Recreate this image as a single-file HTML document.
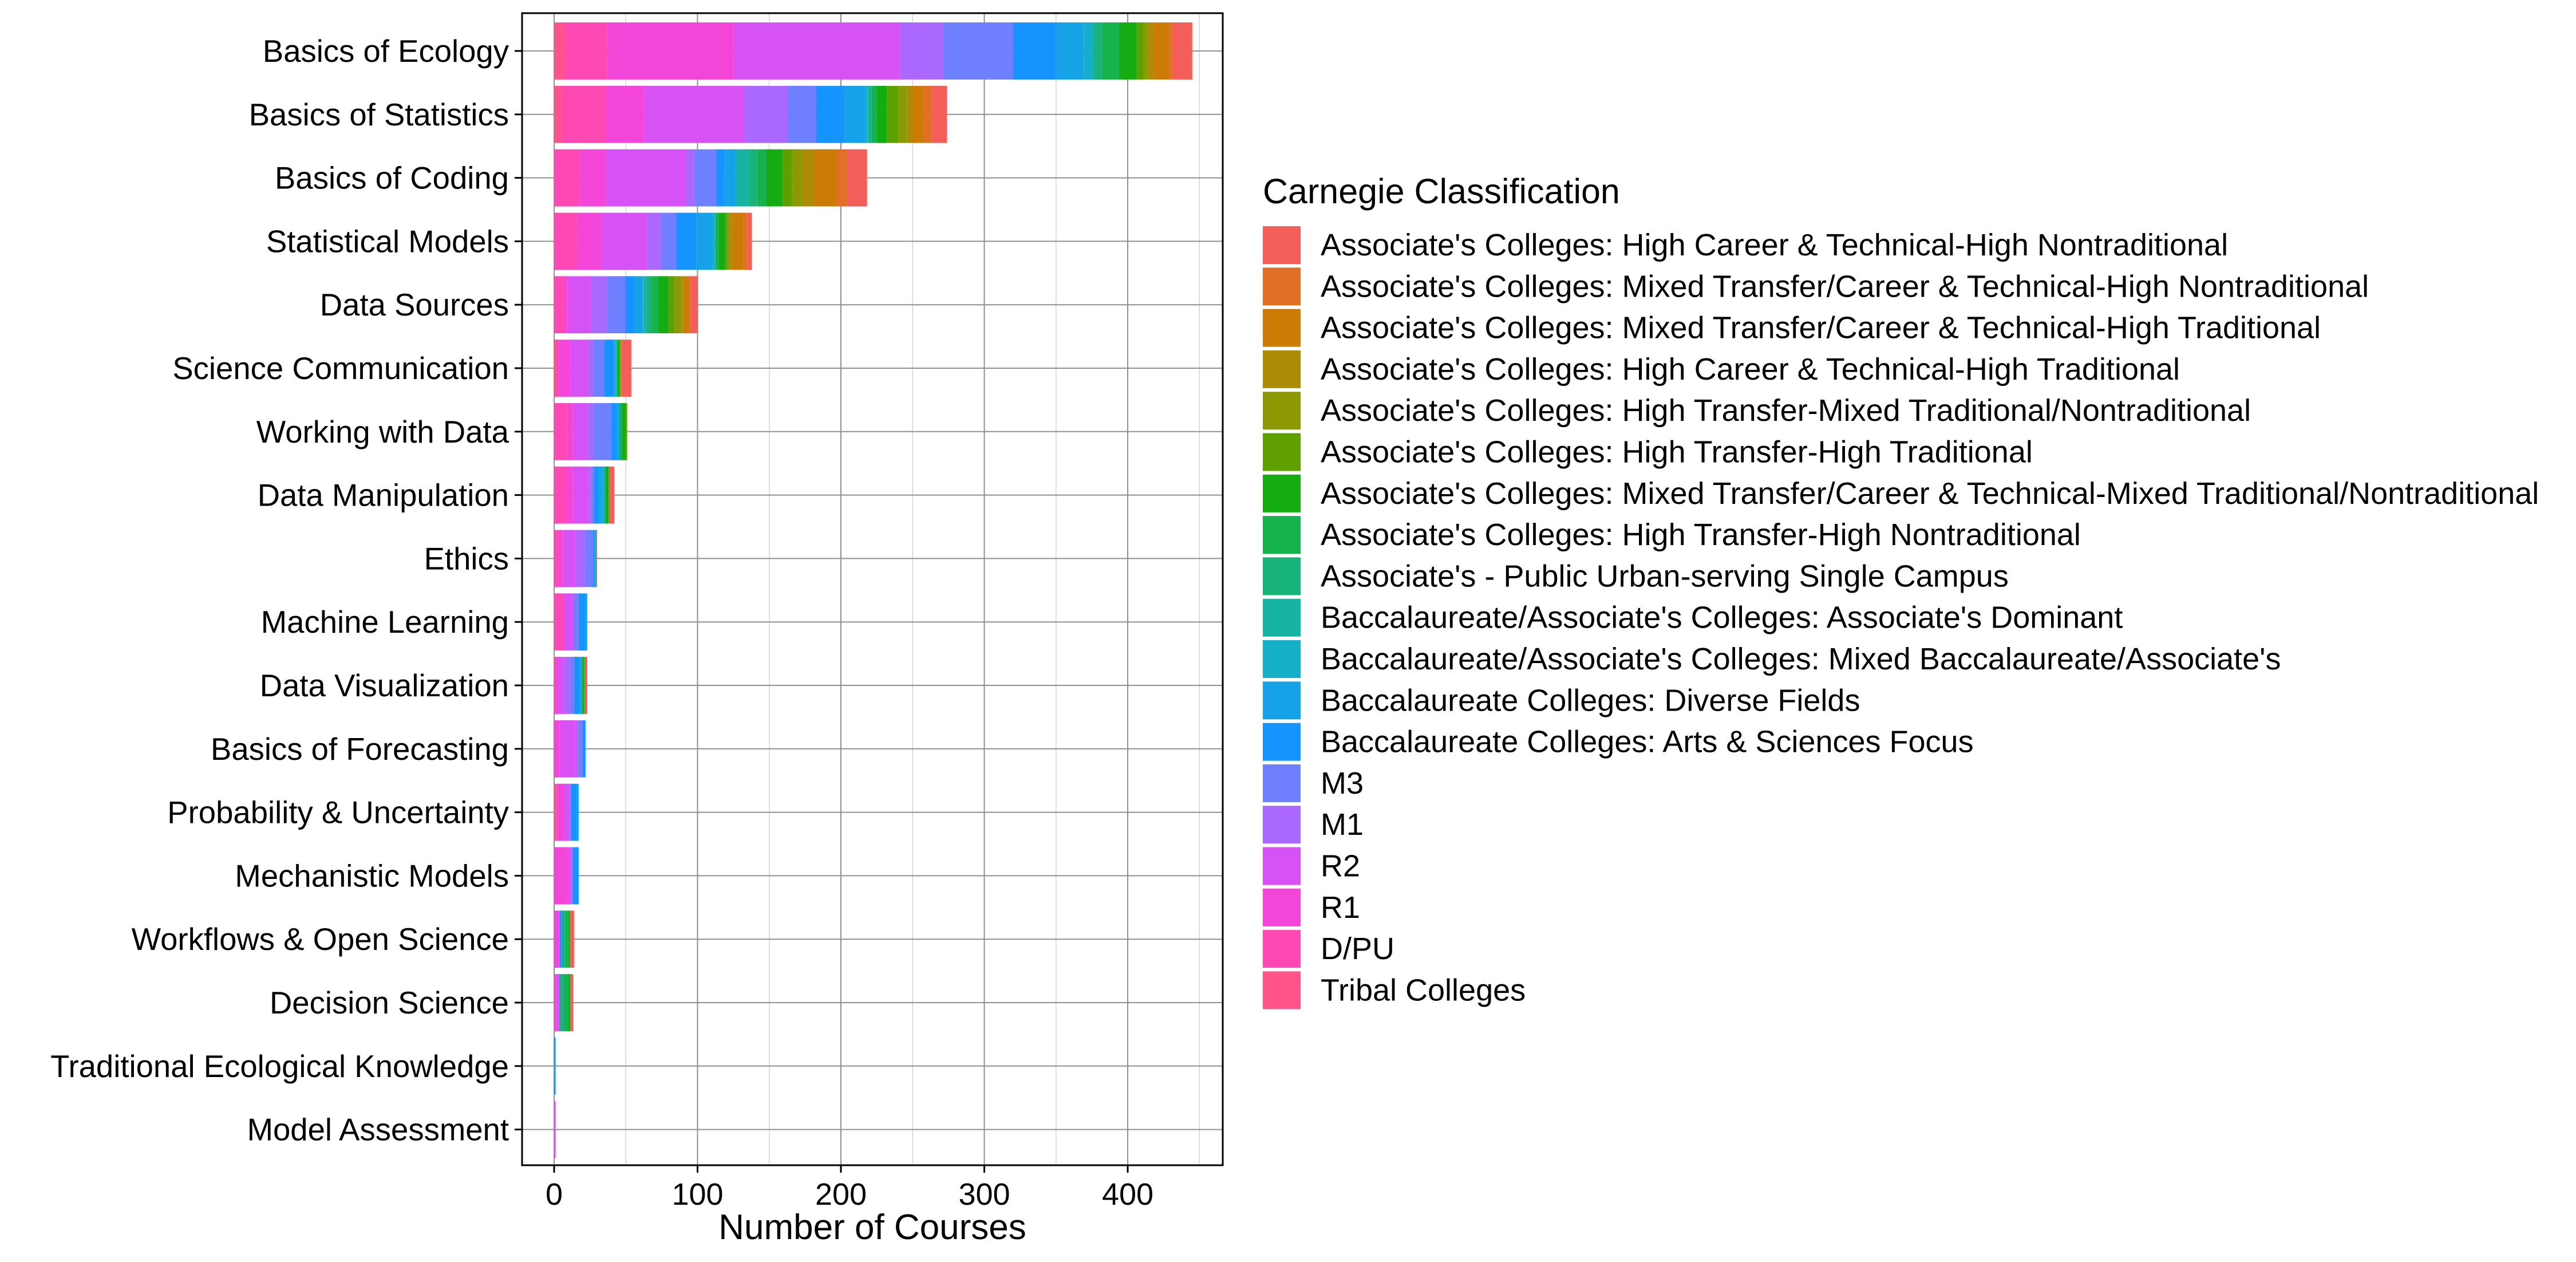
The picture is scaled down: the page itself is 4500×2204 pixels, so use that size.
<!DOCTYPE html>
<html><head><meta charset="utf-8"><style>
html,body{margin:0;padding:0;background:#fff;}
svg text{font-family:"Liberation Sans",Arial,sans-serif;fill:#000;}
</style></head><body>
<svg id="chart" xmlns="http://www.w3.org/2000/svg" width="4500" height="2199" viewBox="0 0 4500 2199">
<rect x="0" y="0" width="4500" height="2199" fill="#fff"/>
<g id="grid"></g>
<g id="bars"></g>
<rect x="912" y="23" width="1224" height="2012" fill="none" stroke="#000" stroke-width="3"/>
<g id="yaxis"></g>
<g id="xaxis"></g>
<text x="1524" y="2164" font-size="62" text-anchor="middle">Number of Courses</text>
<g id="legend">
<text x="2206" y="355" font-size="61">Carnegie Classification</text>
</g>
</svg>
<script>
// Topics (top to bottom)
const topics = ["Basics of Ecology","Basics of Statistics","Basics of Coding","Statistical Models","Data Sources","Science Communication","Working with Data","Data Manipulation","Ethics","Machine Learning","Data Visualization","Basics of Forecasting","Probability & Uncertainty","Mechanistic Models","Workflows & Open Science","Decision Science","Traditional Ecological Knowledge","Model Assessment"];
// Classes in legend order (top to bottom)
const classes = ["Associate's Colleges: High Career & Technical-High Nontraditional","Associate's Colleges: Mixed Transfer/Career & Technical-High Nontraditional","Associate's Colleges: Mixed Transfer/Career & Technical-High Traditional","Associate's Colleges: High Career & Technical-High Traditional","Associate's Colleges: High Transfer-Mixed Traditional/Nontraditional","Associate's Colleges: High Transfer-High Traditional","Associate's Colleges: Mixed Transfer/Career & Technical-Mixed Traditional/Nontraditional","Associate's Colleges: High Transfer-High Nontraditional","Associate's - Public Urban-serving Single Campus","Baccalaureate/Associate's Colleges: Associate's Dominant","Baccalaureate/Associate's Colleges: Mixed Baccalaureate/Associate's","Baccalaureate Colleges: Diverse Fields","Baccalaureate Colleges: Arts & Sciences Focus","M3","M1","R2","R1","D/PU","Tribal Colleges"];
const classColors = ["#F35E5A","#E16F25","#CC7B07","#AC8C07","#8C9804","#5FA000","#15AC12","#16B24C","#17B378","#17B3A3","#15AFC7","#16A2E6","#1593FF","#6E7FFF","#AA68FF","#D652F4","#F346D8","#FE48B4","#FE548A"];
// Counts per topic, stacked left-to-right: Tribal, D/PU, R1, R2, M1, M3, BaccAS, BaccDiv, BAmixed, BAdom, PublicUrban, HT-HN, Mix-Mix, HT-HT, HT-Mixed, HCT-HT, Mix-HT, Mix-HN, HCT-HN
const ecology      = [7,30,88,116,30,49,30,19,7,0,6,12,12,5,3,4,11,2,14];
const statistics   = [5,30.5,27,70,30,20,19.5,15,1.5,1,2,3.5,7,8,6,3.5,8,6,10.5];
const coding       = [0,17.6,17.9,56.3,5.9,15.3,5.6,8,0,9,6,6.5,11,6.7,7,8.4,15.8,7.2,14];
const statModels   = [0,15.9,17.2,31.8,9.6,10.7,13.9,11.3,1,0.5,1,1.8,4.6,1.5,1.5,1.5,8,3,3];
const dataSources  = [0,7,2.3,16.2,11.3,12.9,6,5.9,1,2,3.3,4.7,7.3,4,5,1.2,3.5,1.5,5];
const sciComm      = [1,2.3,7.6,12.6,3.3,8.3,6.3,1,0.5,0.5,0.5,0.5,1.3,0.3,0,0,0.5,0.5,6.8];
const workingData  = [0,9.1,4,10,4,12.8,3.2,2.1,0,0,0,2.7,2,0,1.1,0,0,0,0];
const dataManip    = [0,7.7,5.4,10.8,2,2,3.2,2,2,0,0.8,0,2,0,0,0,0,0,4];
const ethics       = [0,2.9,3,9,6.2,6,0.8,1.2,0,0,0,0,0,0,0,0,0,0.8,0];
const machineLearn = [0,6,0.8,6.4,0,3.9,4.8,0,1.2,0,0,0,0,0,0,0,0,0,0];
const dataViz      = [0,1,1,5.1,4,2.8,4,1.2,0,0,0,0.8,1.2,0,0,0,0,0,2];
const forecasting  = [0,0,3.9,11.2,2,2.8,2,0,0,0,0,0,0,0,0,0,0,0,0];
const probability  = [1.7,0,4.3,4,1,0.9,4,1.2,0,0,0,0,0,0,0,0,0,0,0];
const mechanistic  = [0,0,9.2,2.7,0,1.2,4,0,0,0,0,0,0,0,0,0,0,0,0];
const workflows    = [0,0,2,1.9,0,0,1.2,0,0,0,2.8,2,1.2,0,0,0,0,0,2.8];
const decision     = [0,0,1.5,2,0,0,0,0,0,0,3.5,3,1.3,0,0,0,0,0,2];
const tek          = [0,0,0,0,0,0,1,0,0,0,0,0,0,0,0,0,0,0,0];
const modelAssess  = [0,0,0,1,0,0,0,0,0,0,0,0,0,0,0,0,0,0,0];
const seriesByTopic = [ecology,statistics,coding,statModels,dataSources,sciComm,workingData,dataManip,ethics,machineLearn,dataViz,forecasting,probability,mechanistic,workflows,decision,tek,modelAssess];
const xTicks = [0,100,200,300,400];
const xMinor = [50,150,250,350,450];

const NS = "http://www.w3.org/2000/svg";
const P = {left:912, right:2136, top:23, bottom:2035};
const x0 = 968, ppu = 2.505;
function xs(v){ return x0 + v*ppu; }
const step = 110.8;
function ys(i){ return 89 + step*i; }
const barH = step*0.9;
function mk(tag, attrs, parent){ const e=document.createElementNS(NS,tag); for(const k in attrs) e.setAttribute(k,attrs[k]); parent.appendChild(e); return e; }

const grid=document.getElementById('grid'), bars=document.getElementById('bars'), ya=document.getElementById('yaxis'), xa=document.getElementById('xaxis'), lg=document.getElementById('legend');
xMinor.forEach(v=>{ const X=xs(v); if(X<P.right){ const l=mk('line',{x1:X,x2:X,y1:P.top,y2:P.bottom,stroke:'#d4d4d4','stroke-width':1.5},grid);

 }});
xTicks.forEach(v=>{ const X=xs(v); const l=mk('line',{x1:X,x2:X,y1:P.top,y2:P.bottom,stroke:'#909090','stroke-width':2},grid);


const t=mk('line',{x1:X,x2:X,y1:P.bottom,y2:P.bottom+13,stroke:'#000','stroke-width':3},xa);


const tx=mk('text',{x:X,y:2104,'font-size':54,'text-anchor':'middle'},xa); tx.textContent=v;

 });
topics.forEach((name,i)=>{ const Y=ys(i);
const g=mk('line',{x1:P.left,x2:P.right,y1:Y,y2:Y,stroke:'#909090','stroke-width':2},grid);


const t=mk('line',{x1:P.left-13,x2:P.left,y1:Y,y2:Y,stroke:'#000','stroke-width':3},ya);


const lb=mk('text',{x:889,y:Y+19,'font-size':54.5,'text-anchor':'end'},ya); lb.textContent=name;


const vals=seriesByTopic[i]; let cum=0;
vals.forEach((v,k)=>{ if(v<=0) return; const ci=classes.length-1-k;
const r=mk('rect',{x:xs(cum),y:Y-barH/2,width:v*ppu,height:barH,fill:classColors[ci]},bars);


cum+=v; });
});
classes.forEach((c,i)=>{ const Y=395+i*72.3;
const r=mk('rect',{x:2206,y:Y,width:66,height:66,fill:classColors[i]},lg);


const t=mk('text',{x:2307,y:Y+51,'font-size':54},lg); t.textContent=c;

 });
</script>
</body></html>
